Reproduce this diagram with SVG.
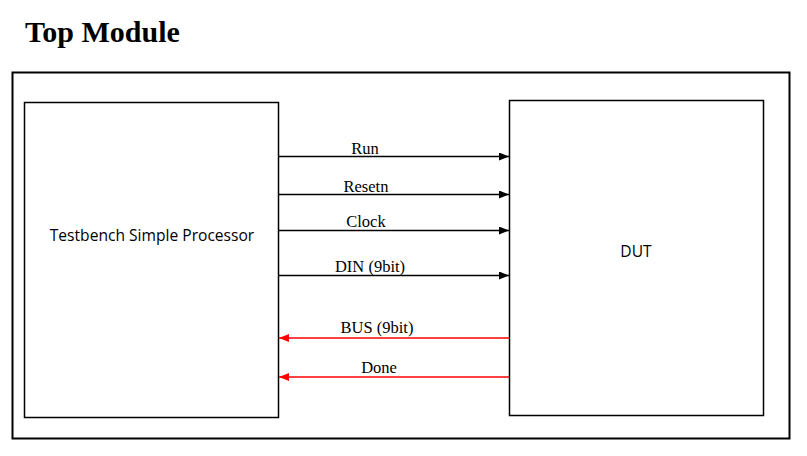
<svg xmlns="http://www.w3.org/2000/svg" width="807" height="456" viewBox="0 0 807 456">
<defs>
<style>
.box{fill:#fff;stroke:#000;stroke-width:1.5}
.lbl{font-family:"Liberation Serif",serif;font-size:16.5px;text-anchor:middle;fill:#000}
.node{font-family:"Open Sans","DejaVu Sans",sans-serif;font-size:15.6px;text-anchor:middle;fill:#000}
.blk{stroke:#000;stroke-width:1.5;fill:none}
.red{stroke:#f00;stroke-width:1.5;fill:none}
</style>
<marker id="ab" markerWidth="10" markerHeight="8" refX="10" refY="4" orient="auto" markerUnits="userSpaceOnUse"><path d="M0,0 L10,4 L0,8 Z" fill="#000"/></marker>
<marker id="ar" markerWidth="10" markerHeight="8" refX="10" refY="4" orient="auto" markerUnits="userSpaceOnUse"><path d="M0,0 L10,4 L0,8 Z" fill="#f00"/></marker>
</defs>
<rect width="807" height="456" fill="#fff"/>
<text x="25" y="42" font-family="Liberation Serif,serif" font-size="30" font-weight="bold">Top Module</text>
<g id="top"><rect x="12.5" y="72.5" width="777" height="366" fill="none" stroke="#000" stroke-width="2"/></g>
<g id="tb"><rect class="box" x="24.5" y="102.5" width="254" height="315"/><text class="node" x="152" y="241">Testbench Simple Processor</text></g>
<g id="dut"><rect class="box" x="509.5" y="100.5" width="254" height="315"/><text class="node" x="636" y="257">DUT</text></g>
<g id="connectors">
<line class="blk" x1="279" y1="156.5" x2="509" y2="156.5" marker-end="url(#ab)"/>
<line class="blk" x1="279" y1="194.5" x2="509" y2="194.5" marker-end="url(#ab)"/>
<line class="blk" x1="279" y1="230.5" x2="509" y2="230.5" marker-end="url(#ab)"/>
<line class="blk" x1="279" y1="275.5" x2="509" y2="275.5" marker-end="url(#ab)"/>
<line class="red" x1="509" y1="338" x2="279" y2="338" marker-end="url(#ar)"/>
<line class="red" x1="509" y1="377" x2="279" y2="377" marker-end="url(#ar)"/>
<text class="lbl" x="365" y="154">Run</text>
<text class="lbl" x="366" y="192">Resetn</text>
<text class="lbl" x="366" y="227">Clock</text>
<text class="lbl" x="370" y="272">DIN (9bit)</text>
<text class="lbl" x="377" y="333">BUS (9bit)</text>
<text class="lbl" x="379" y="373">Done</text>
</g>
</svg>
